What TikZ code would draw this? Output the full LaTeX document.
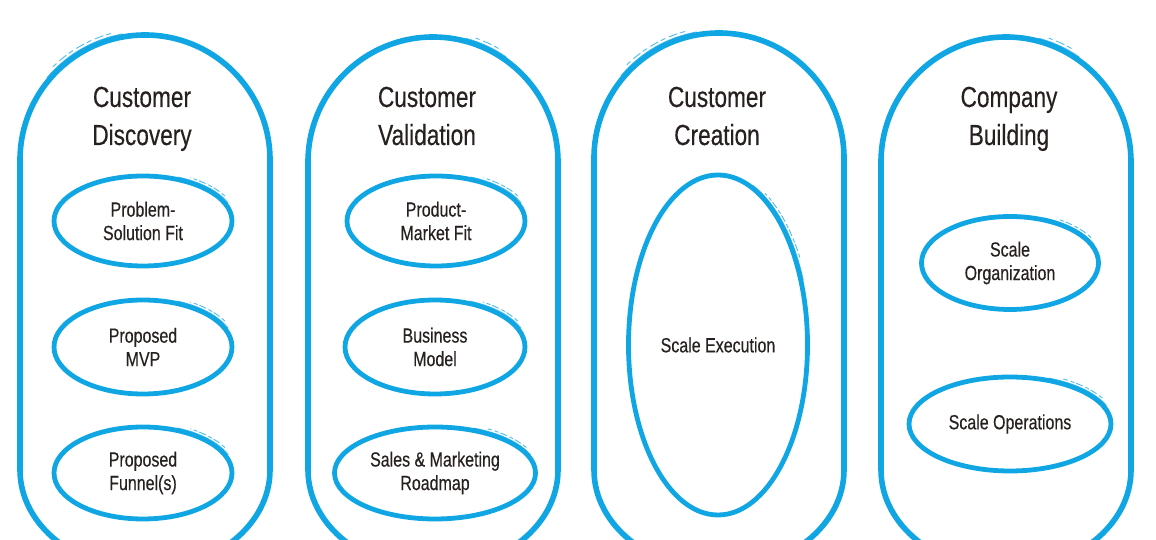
\documentclass[tikz,border=0pt]{standalone}
\usepackage{fontspec}
\setmainfont{Liberation Sans}[FakeStretch=0.78,FakeBold=0.35]
\usetikzlibrary{shapes.geometric,calc}
\definecolor{sblue}{RGB}{16,166,228}
\definecolor{ink}{RGB}{38,32,30}
\newcommand\capsulepath[2]{%
  \draw[capsule] ({#1-125},{#2-125}) -- ({#1-125},70)
    arc[start angle=180,end angle=360,x radius=125,y radius=100]
    -- ({#1+125},{#2-125})
    arc[start angle=0,end angle=180,radius=125] -- cycle;}
% sketchy marks on an ellipse: node, x radius, y radius
\newcommand\scratchell[3]{%
  \draw[scratch] ($(#1.center)+({(#2+3)*cos(22)},{(#3+2.5)*sin(22)})$)
    arc[start angle=22,end angle=68,x radius=#2+3,y radius=#3+2.5];
  \draw[scratch,dash pattern=on 4pt off 3pt on 7pt off 2pt] ($(#1.center)+({(#2+5.5)*cos(30)},{(#3+5)*sin(30)})$)
    arc[start angle=30,end angle=60,x radius=#2+5.5,y radius=#3+5];}
% sketchy marks on a capsule dome: centre x, top y, from angle, to angle
\newcommand\scratchdome[4]{%
  \draw[scratch] ($({#1},{#2-125})+({128*cos(#3)},{128*sin(#3)})$)
    arc[start angle=#3,end angle=#4,radius=128];
  \draw[scratch,dash pattern=on 5pt off 3pt on 9pt off 4pt] ($({#1},{#2-125})+({131*cos(#3+5)},{131*sin(#3+5)})$)
    arc[start angle=#3+5,end angle=#4-4,radius=131];}
\begin{document}
\begin{tikzpicture}[x=1pt,y=1pt,
  capsule/.style={draw=sblue,line width=5.6pt},
  bubble/.style={ellipse,draw=sblue,line width=4.8pt,inner sep=0pt},
  scratch/.style={draw=sblue,line width=0.9pt,opacity=0.75},
  title/.style={text=ink,font=\fontsize{29}{38}\selectfont,anchor=base},
  txt/.style={text=ink,font=\fontsize{20.5}{23.5}\selectfont,align=center}]
\useasboundingbox (0,0) rectangle (1156,540);
\begin{scope}
\clip (0,0) rectangle (1156,540);
\capsulepath{145}{505}
\capsulepath{433}{503}
\capsulepath{719}{507}
\capsulepath{1006}{503}
\end{scope}
\scratchdome{145}{505}{100}{140}
\scratchdome{433}{503}{55}{75}
\scratchdome{719}{507}{100}{140}
\scratchdome{1006}{503}{55}{75}
% titles
\node[title] (t1a) at (142,433) {Customer};
\node[title] (t1b) at (142,395) {Discovery};
\node[title] (t2a) at (427,433) {Customer};
\node[title] (t2b) at (427,395) {Validation};
\node[title] (t3a) at (717,433) {Customer};
\node[title] (t3b) at (717,395) {Creation};
\node[title] (t4a) at (1009,433) {Company};
\node[title] (t4b) at (1009,395) {Building};
% column 1
\node[bubble,txt,minimum width=178pt,minimum height=90pt] (ps) at (143,319) {Problem-\\Solution Fit};
\node[bubble,txt,minimum width=178pt,minimum height=94pt] (mvp) at (143,193) {Proposed\\MVP};
\node[bubble,txt,minimum width=178pt,minimum height=92pt] (fun) at (143,67) {Proposed\\Funnel(s)};
% column 2
\node[bubble,txt,minimum width=178pt,minimum height=90pt] (pmf) at (436,319) {Product-\\Market Fit};
\node[bubble,txt,minimum width=180pt,minimum height=94pt] (bm) at (435,193) {Business\\Model};
\node[bubble,txt,minimum width=201pt,minimum height=92pt] (smr) at (435,67) {Sales \& Marketing\\Roadmap};
% column 3
\node[bubble,txt,minimum width=179pt,minimum height=340pt] (se) at (718,195) {Scale Execution};
% column 4
\node[bubble,txt,minimum width=177pt,minimum height=93pt] (so) at (1010,277) {Scale\\Organization};
\node[bubble,txt,minimum width=202pt,minimum height=94pt] (sop) at (1010,116) {Scale Operations};
% sketch marks
\scratchell{ps}{89}{45}
\scratchell{mvp}{89}{47}
\scratchell{fun}{89}{46}
\scratchell{pmf}{89}{45}
\scratchell{bm}{90}{47}
\scratchell{smr}{100}{46}
\scratchell{se}{89}{170}
\scratchell{so}{88}{46}
\scratchell{sop}{101}{47}
\end{tikzpicture}
\end{document}
